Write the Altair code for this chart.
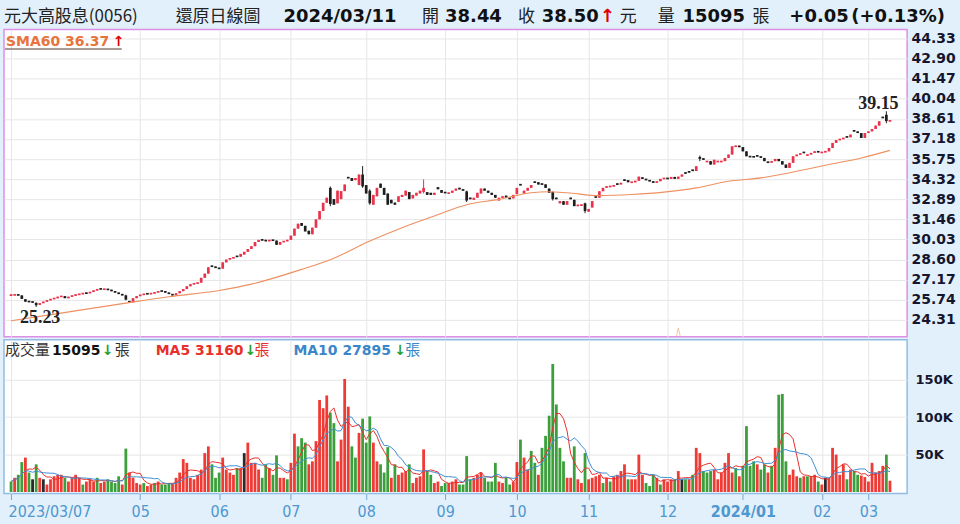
import altair as alt
import pandas as pd
import numpy as np

# ---------------- data ----------------
closes = [
    26.10, 26.10, 26.05, 25.80, 25.60, 25.60, 25.55, 25.35, 25.50, 25.60,
    25.70, 25.80, 25.85, 25.95, 26.00, 25.85, 25.95, 26.05, 26.10, 26.15,
    26.20, 26.20, 26.30, 26.40, 26.50, 26.50, 26.50, 26.45, 26.35, 26.25,
    26.15, 26.05, 25.75, 25.55, 25.85, 26.00, 26.10, 26.15, 26.15, 26.20,
    26.25, 26.35, 26.35, 26.25, 26.15, 26.05, 26.20, 26.35, 26.50, 26.70,
    26.85, 26.90, 26.95, 27.30, 27.60, 28.05, 28.10, 28.00, 27.95, 28.40,
    28.60, 28.70, 28.75, 28.80, 29.00, 29.15, 29.35, 29.55, 29.85, 30.00,
    29.95, 29.90, 30.00, 29.95, 29.65, 29.85, 29.90, 30.00, 30.30, 30.80,
    31.15, 31.00, 30.60, 30.40, 30.87, 31.46, 32.05, 32.64, 33.00, 32.55,
    32.50, 33.50, 33.47, 33.94, 34.40, 34.20, 34.40, 34.65, 33.80, 33.30,
    32.60, 33.20, 33.70, 33.70, 33.20, 32.50, 32.60, 32.50, 33.10, 33.20,
    33.50, 32.90, 33.20, 33.35, 33.50, 33.70, 33.20, 33.20, 33.35, 33.60,
    33.35, 33.35, 33.35, 33.50, 33.65, 33.60, 33.50, 32.80, 32.90, 33.00,
    33.35, 33.65, 33.50, 33.35, 33.20, 33.00, 33.00, 33.10, 33.00, 32.90,
    33.20, 33.70, 33.90, 33.50, 33.70, 33.90, 34.06, 33.94, 33.94, 33.70,
    33.35, 32.90, 32.90, 32.76, 32.50, 32.76, 32.90, 32.40, 32.50, 32.50,
    32.05, 32.20, 32.76, 33.00, 33.46, 33.70, 33.82, 33.82, 33.87, 33.94,
    34.06, 34.20, 34.10, 34.10, 34.20, 34.50, 34.34, 34.25, 34.17, 34.06,
    34.17, 34.34, 34.40, 34.34, 34.48, 34.34, 34.50, 34.65, 34.72, 34.80,
    34.90, 35.24, 35.76, 35.70, 35.60, 35.36, 35.70, 35.60, 35.60, 35.83,
    36.07, 36.66, 36.70, 36.60, 36.30, 35.95, 35.90, 35.90, 35.95, 35.83,
    35.60, 35.50, 35.60, 35.76, 35.60, 35.36, 35.12, 35.48, 35.95, 36.07,
    36.14, 36.19, 36.07, 36.19, 36.30, 36.24, 36.24, 36.30, 36.54, 36.90,
    37.10, 37.18, 37.25, 37.30, 37.49, 37.72, 37.60, 37.25, 37.60, 37.72,
    37.89, 38.13, 38.44, 38.67, 38.45, 38.50,
]

opens = [
    26.05, 26.07, 26.12, 26.05, 25.78, 25.62, 25.60, 25.52, 25.38, 25.50,
    25.60, 25.70, 25.80, 25.85, 25.95, 26.00, 25.85, 25.95, 26.05, 26.10,
    26.15, 26.22, 26.20, 26.30, 26.40, 26.52, 26.48, 26.50, 26.45, 26.35,
    26.25, 26.15, 26.05, 25.65, 25.55, 25.85, 26.00, 26.10, 26.18, 26.15,
    26.20, 26.25, 26.37, 26.35, 26.25, 26.15, 26.05, 26.20, 26.35, 26.50,
    26.70, 26.85, 26.90, 26.95, 27.30, 27.60, 28.15, 28.10, 28.00, 27.95,
    28.40, 28.60, 28.70, 28.85, 28.80, 28.95, 29.15, 29.35, 29.55, 29.85,
    30.05, 30.00, 29.90, 30.00, 29.95, 29.65, 29.85, 29.90, 30.00, 30.30,
    30.80, 31.20, 31.00, 30.65, 30.40, 30.87, 31.46, 32.05, 32.64, 33.70,
    32.90, 32.60, 32.90, 33.47, 34.45, 34.40, 34.25, 33.90, 34.65, 33.90,
    33.50, 32.50, 33.10, 34.00, 33.70, 33.30, 32.85, 32.65, 32.70, 33.05,
    33.15, 33.40, 32.95, 33.15, 33.30, 33.40, 33.40, 33.35, 33.20, 33.75,
    33.55, 33.38, 33.30, 33.35, 33.50, 33.70, 33.60, 33.45, 33.00, 32.85,
    33.00, 33.30, 33.65, 33.50, 33.35, 33.20, 32.80, 33.00, 33.15, 33.00,
    32.95, 33.25, 33.95, 33.30, 33.50, 33.70, 34.15, 34.10, 34.00, 33.95,
    33.65, 33.40, 33.00, 32.60, 32.75, 32.50, 33.00, 32.85, 32.40, 32.45,
    32.60, 32.00, 32.30, 33.10, 33.00, 33.46, 33.70, 33.78, 33.82, 34.00,
    33.94, 34.30, 34.25, 34.10, 34.10, 34.20, 34.45, 34.34, 34.25, 34.17,
    34.06, 34.17, 34.34, 34.40, 34.34, 34.48, 34.34, 34.50, 34.80, 34.88,
    35.00, 34.90, 35.90, 35.80, 35.55, 35.60, 35.36, 35.55, 35.55, 35.60,
    35.83, 36.07, 36.62, 36.70, 36.60, 36.30, 35.95, 35.92, 36.00, 35.95,
    35.83, 35.55, 35.50, 35.60, 35.76, 35.60, 35.36, 35.12, 35.48, 35.95,
    36.07, 36.25, 36.00, 36.07, 36.19, 36.30, 36.20, 36.24, 36.30, 36.54,
    36.90, 37.10, 37.18, 37.35, 37.30, 37.80, 37.72, 37.60, 37.25, 37.60,
    37.72, 37.89, 38.13, 38.75, 38.90, 38.44,
]

# daily volume, thousands of lots (張)
volume_k = [
    14, 19, 23, 40, 46, 26, 17, 37, 19, 17,
    10, 17, 21, 23, 23, 19, 14, 19, 23, 19,
    10, 14, 17, 14, 19, 12, 14, 17, 14, 12,
    21, 10, 58, 26, 19, 12, 10, 12, 8, 10,
    12, 14, 10, 10, 12, 12, 19, 26, 44, 39,
    19, 17, 23, 30, 52, 61, 37, 19, 26, 46,
    30, 26, 23, 32, 32, 52, 66, 39, 39, 30,
    19, 37, 32, 23, 49, 19, 19, 17, 39, 78,
    61, 72, 66, 37, 41, 68, 123, 112, 129, 106,
    92, 41, 70, 151, 114, 61, 46, 79, 98, 66,
    101, 66, 41, 37, 26, 60, 19, 37, 23, 26,
    28, 37, 12, 19, 21, 57, 28, 23, 12, 14,
    8, 12, 12, 14, 17, 10, 10, 48, 17, 19,
    23, 26, 19, 14, 14, 39, 14, 12, 19, 10,
    14, 40, 70, 46, 30, 55, 39, 23, 59, 75,
    102, 171, 117, 59, 41, 19, 19, 61, 17, 12,
    52, 17, 19, 21, 23, 12, 19, 14, 21, 23,
    28, 37, 17, 17, 17, 50, 23, 12, 8, 23,
    19, 10, 17, 14, 17, 17, 28, 17, 17, 17,
    23, 59, 52, 28, 26, 28, 30, 17, 26, 39,
    52, 26, 32, 21, 35, 88, 35, 41, 37, 30,
    37, 26, 35, 59, 130, 131, 41, 23, 30, 21,
    19, 21, 21, 21, 23, 14, 10, 19, 19, 59,
    50, 23, 37, 17, 30, 28, 23, 22, 20, 14,
    39, 26, 28, 35, 50, 15.095,
]

# volume bar colour read per day: r = up, g = down, k = flat
vol_dir = ("grggrgkgrk rrrrrgrrrr grrrgrrggg grgrrrrgrr grgggrrrrr "
           "rrrrrrgggr rrrgrkrrrr ggrggrrgrr gggrrrrrrg grrrrggrgg "
           "grrgggrgrr rgrrrrggrr ggrrrggggr rrggggrrgg rrgrrggrgg "
           "gggggrrgrr grrrrgrgrr rrgrrrrggg rgrrrgrkgr grrgggrrrr "
           "rrgrggggrg grgrgggrrr grgrrgrkrr rrrgrggrrr rrrrgr")

wick_days = [7, 32, 89, 98, 100, 115, 127, 151, 160, 192, 244]
wick_low = [25.23, 25.70, 32.40, 33.70, 32.50, 33.30, 32.70, 32.80, 31.90, 35.60, 38.30]
wick_high = [25.55, 26.10, 33.80, 35.25, 33.60, 34.30, 33.50, 33.45, 32.65, 36.00, 39.15]

sma_days = [0, 13, 32, 44, 58, 67, 81, 90, 100, 109, 118, 127, 136, 145, 150,
            155, 164, 173, 182, 191, 200, 209, 216, 219, 228, 237, 245]
sma_vals = [24.25, 24.75, 25.50, 25.95, 26.40, 26.85, 27.90, 28.70, 29.92, 30.87,
            31.70, 32.50, 32.88, 33.35, 33.42, 33.35, 33.15, 33.23, 33.40, 33.70,
            34.17, 34.41, 34.72, 34.88, 35.36, 35.83, 36.37]

exdiv_days = [186]

month_days = [0, 36, 58, 78, 99, 121, 141, 161, 183, 204, 226, 239]
month_labels = ["2023/03/07", "05", "06", "07", "08", "09", "10", "11", "12",
                "2024/01", "02", "03"]
price_ticks = [24.31, 25.74, 27.17, 28.60, 30.03, 31.46, 32.89, 34.32, 35.75,
               37.18, 38.61, 40.04, 41.47, 42.90, 44.33]
vol_ticks = [50000, 100000, 150000]

# ---------------- styling ----------------
BG = "#e2f0fb"
RED_C = "#e8334a"
BLK_C = "#1e1e1e"
VOL_COLORS = {"r": "#ef3b36", "g": "#3c9f3c", "k": "#2b2b2b"}
GRID = "#e6e6e6"
BOLD_FONT = "DejaVu Sans"
CJK_FONT = "Noto Sans CJK TC"

# ---------------- tables ----------------
n = len(closes)
df = pd.DataFrame({"i": np.arange(n), "o": opens, "c": closes,
                   "v": np.array(volume_k) * 1000.0,
                   "vd": list(vol_dir.replace(" ", ""))})
df["lo"] = df[["o", "c"]].min(axis=1)
df["hi"] = df[["o", "c"]].max(axis=1)
for d, l, h in zip(wick_days, wick_low, wick_high):
    df.loc[d, "lo"] = l
    df.loc[d, "hi"] = h
df["ccol"] = np.where(df["c"] >= df["o"], RED_C, BLK_C)
df["vcol"] = df["vd"].map(VOL_COLORS)
mid = (df["o"] + df["c"]) / 2
small = (df["o"] - df["c"]).abs() < 0.12
df["b0"] = np.where(small, mid - 0.06, df[["o", "c"]].min(axis=1))
df["b1"] = np.where(small, mid + 0.06, df[["o", "c"]].max(axis=1))
df["ma5"] = df["v"].rolling(5, min_periods=1).mean()
df["ma10"] = df["v"].rolling(10, min_periods=1).mean()

sma_df = pd.DataFrame({"i": sma_days, "sma": sma_vals})
lo_i = int(df["lo"].idxmin())
hi_i = int(df["hi"].idxmax())
ann_lo = pd.DataFrame({"i": [lo_i], "y": [df["lo"].min()], "t": [f"{df['lo'].min():.2f}"]})
ann_hi = pd.DataFrame({"i": [hi_i], "y": [df["hi"].max()], "t": [f"{df['hi'].max():.2f}"]})
exdiv_df = pd.DataFrame({"i": exdiv_days})

W = 905
xs = alt.Scale(domain=[-0.578, 248.39], nice=False, zero=False)
ps = alt.Scale(domain=[23.10, 44.97], nice=False, zero=False)
vs = alt.Scale(domain=[-2000, 203300], nice=False, zero=False)

x_price_axis = alt.Axis(values=month_days, grid=True, gridColor=GRID, labels=False,
                        ticks=False, domain=False, title=None)
y_price_axis = alt.Axis(orient="right", values=price_ticks, format=".2f", grid=True,
                        gridColor=GRID, ticks=False, tickSize=0, domain=False,
                        labelPadding=4, labelFont=BOLD_FONT, labelFontSize=14,
                        labelFontWeight="bold", labelColor="#15152e", title=None)

month_expr = ("[" + ",".join(f"'{s}'" for s in month_labels) + "][indexof(["
              + ",".join(str(d) for d in month_days) + "], datum.value)]")
x_vol_axis = alt.Axis(values=month_days, labelExpr=month_expr, grid=True, gridColor=GRID,
                      ticks=True, tickSize=6, tickColor="#6ea8da", domain=False,
                      labelFont="Liberation Sans Narrow, DejaVu Sans Condensed, sans-serif",
                      labelFontSize=16, labelColor="#4f97cf", labelPadding=4,
                      labelAlign={"condition": {"test": "datum.value == 0", "value": "left"},
                                  "value": "center"},
                      labelOffset={"condition": {"test": "datum.value == 0", "value": -3},
                                   "value": 0},
                      labelFontWeight={"condition": {"test": "datum.value == 204", "value": "bold"},
                                       "value": "normal"},
                      labelOverlap=False, labelBound=False, labelFlush=False, title=None)
y_vol_axis = alt.Axis(orient="right", values=vol_ticks, labelExpr="datum.value/1000 + 'K'",
                      grid=True, gridColor=GRID, ticks=False, tickSize=0, domain=False,
                      labelPadding=8, labelFont=BOLD_FONT, labelFontSize=13,
                      labelFontWeight="bold", labelColor="#15152e", title=None)

X_P = alt.X("i:Q", scale=xs, axis=x_price_axis)
X_V = alt.X("i:Q", scale=xs, axis=x_vol_axis)
cand_color = alt.Color("ccol:N", scale=None, legend=None)


def txt(text, px, py, font, size, weight, color, align="left", baseline="alphabetic"):
    return alt.Chart(pd.DataFrame({"t": [text]})).mark_text(
        font=font, fontSize=size, fontWeight=weight, color=color,
        align=align, baseline=baseline
    ).encode(text="t:N", x=alt.value(px), y=alt.value(py))


def bounds_rule(py):
    return alt.Chart(pd.DataFrame({"a": [0]})).mark_rule(opacity=0, strokeWidth=0.01).encode(
        x=alt.value(-3), x2=alt.value(957), y=alt.value(py), y2=alt.value(py))


# ---------------- price panel ----------------
base = alt.Chart(df)
wick = base.mark_rule(strokeWidth=1).encode(
    x=X_P, y=alt.Y("lo:Q", scale=ps, axis=y_price_axis), y2="hi:Q", color=cand_color)
body = base.mark_bar(size=2.7, orient="vertical").encode(
    x=X_P, y=alt.Y("b0:Q", scale=ps, axis=y_price_axis), y2="b1:Q", color=cand_color)
sma_line = alt.Chart(sma_df).mark_line(color="#ee9060", strokeWidth=1.1,
                                       interpolate="monotone").encode(
    x=X_P, y=alt.Y("sma:Q", scale=ps, axis=y_price_axis))
lo_text = alt.Chart(ann_lo).mark_text(font="Liberation Serif", fontWeight="bold", fontSize=18,
                                      color="#222222", baseline="top", dy=2, dx=4).encode(
    x=X_P, y=alt.Y("y:Q", scale=ps, axis=y_price_axis), text="t:N")
hi_text = alt.Chart(ann_hi).mark_text(font="Liberation Serif", fontWeight="bold", fontSize=18,
                                      color="#222222", baseline="alphabetic", dy=-2, dx=-8).encode(
    x=X_P, y=alt.Y("y:Q", scale=ps, axis=y_price_axis), text="t:N")
exdiv = alt.Chart(exdiv_df).mark_point(shape="M-0.45,1L0,-1L0.45,1", filled=False, size=64,
                                       color="#f2a67a", strokeWidth=1).encode(
    x=X_P, y=alt.value(303))

HY = -8
header = [
    txt("元大高股息(0056)", 0, HY, CJK_FONT, 17, "normal", "#222222"),
    txt("還原日線圖", 172, HY, CJK_FONT, 17, "normal", "#222222"),
    txt("2024/03/11", 280, HY, BOLD_FONT, 18, "bold", "#111111"),
    txt("開", 419, HY, CJK_FONT, 17, "normal", "#222222"),
    txt(f"{opens[-1]:.2f}", 442, HY, BOLD_FONT, 18, "bold", "#111111"),
    txt("收", 515, HY, CJK_FONT, 17, "normal", "#222222"),
    txt(f"{closes[-1]:.2f}", 539, HY, BOLD_FONT, 18, "bold", "#111111"),
    txt("↑", 597, HY, BOLD_FONT, 18, "bold", "#e00000"),
    txt("元", 617, HY, CJK_FONT, 17, "normal", "#222222"),
    txt("量", 655, HY, CJK_FONT, 17, "normal", "#222222"),
    txt(f"{int(round(volume_k[-1] * 1000))}", 680, HY, BOLD_FONT, 18, "bold", "#111111"),
    txt("張", 750, HY, CJK_FONT, 17, "normal", "#222222"),
    txt("+0.05", 787, HY, BOLD_FONT, 18, "bold", "#111111"),
    txt("(+0.13%)", 849, HY, BOLD_FONT, 18, "bold", "#111111"),
]
sma_legend = [
    txt("SMA60 36.37", 2, 17, BOLD_FONT, 14, "bold", "#e8743b"),
    txt("↑", 109, 17, BOLD_FONT, 14, "bold", "#e00000"),
    alt.Chart(pd.DataFrame({"a": [0]})).mark_rule(color="#8c7b73", strokeWidth=1.5).encode(
        x=alt.value(1), x2=alt.value(118), y=alt.value(19.5), y2=alt.value(19.5)),
]

price = alt.layer(
    wick, body, sma_line, lo_text, hi_text, exdiv, *header, *sma_legend, bounds_rule(-28)
).properties(width=W, height=308,
             view=alt.ViewBackground(fill="white", stroke="#dd8ee6", strokeWidth=1.5))

# ---------------- volume panel ----------------
vbars = base.mark_bar(size=2.8, orient="vertical").encode(
    x=X_V, y=alt.Y("v:Q", scale=vs, axis=y_vol_axis, stack=None), y2=alt.datum(0),
    color=alt.Color("vcol:N", scale=None, legend=None))
ma5 = base.mark_line(color="#e8302a", strokeWidth=1).encode(
    x=X_V, y=alt.Y("ma5:Q", scale=vs, axis=y_vol_axis))
ma10 = base.mark_line(color="#3d8fd6", strokeWidth=1).encode(
    x=X_V, y=alt.Y("ma10:Q", scale=vs, axis=y_vol_axis))

VY = 15
vol_legend = [
    txt("成交量", 1, VY, CJK_FONT, 15, "normal", "#333333"),
    txt("15095", 48, VY, BOLD_FONT, 14, "bold", "#111111"),
    txt("↓", 98, VY, BOLD_FONT, 14, "bold", "#2a9d2a"),
    txt("張", 111, VY, CJK_FONT, 15, "normal", "#333333"),
    txt("MA5 31160", 152, VY, BOLD_FONT, 14, "bold", "#e8302a"),
    txt("↓", 241, VY, BOLD_FONT, 14, "bold", "#2a9d2a"),
    txt("張", 251, VY, CJK_FONT, 15, "normal", "#e8302a"),
    txt("MA10 27895", 290, VY, BOLD_FONT, 14, "bold", "#3a86c8"),
    txt("↓", 391, VY, BOLD_FONT, 14, "bold", "#2a9d2a"),
    txt("張", 402, VY, CJK_FONT, 15, "normal", "#3a86c8"),
]

volume = alt.layer(vbars, ma5, ma10, *vol_legend, bounds_rule(184)).properties(
    width=W, height=154,
    view=alt.ViewBackground(fill="white", stroke="#8fbde3", strokeWidth=1.5))

chart = alt.vconcat(price, volume, spacing=0).properties(
    padding=0, background=BG, autosize=alt.AutoSizeParams(type="pad"))

chart.save("out.html", embed_options={"renderer": "svg", "actions": False})
